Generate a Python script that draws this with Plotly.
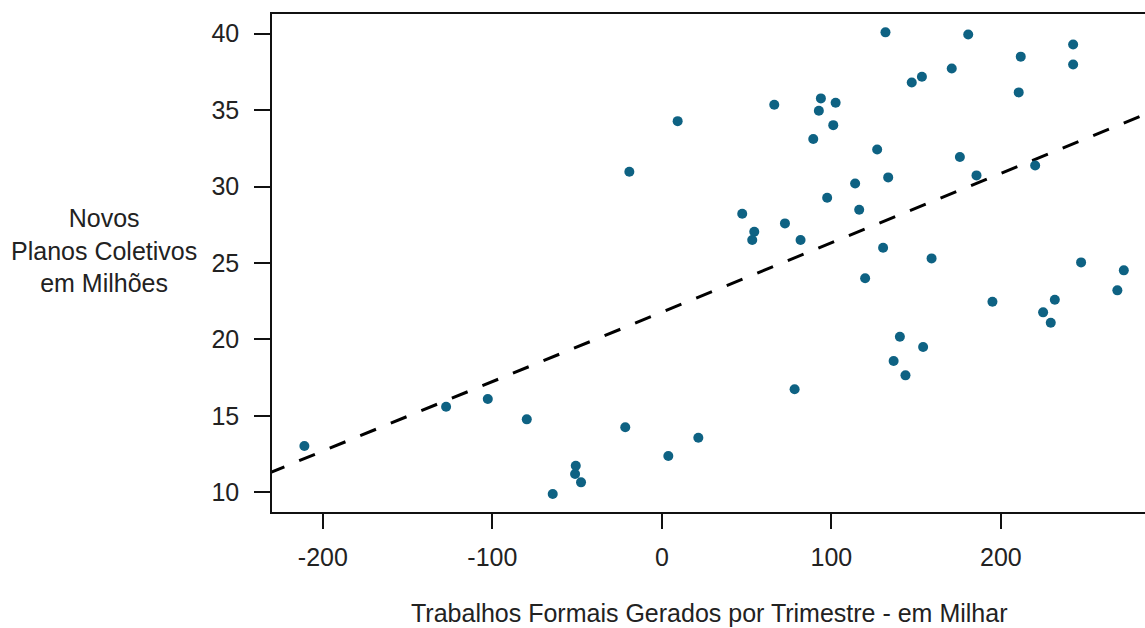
import plotly.graph_objects as go
import numpy as np

# Data
empregos_mil = [-210.9, -127.3, -102.7, -79.7, -64.4, -50.8, -51.2, -47.7, -21.6, -19.2,
                3.8, 9.3, 21.5, 47.4, 54.5, 53.3, 66.3, 72.6, 78.3, 81.8,
                89.3, 92.6, 93.8, 97.5, 101.1, 102.5, 114.0, 116.4, 119.9, 127.0,
                130.5, 131.9, 133.5, 136.7, 140.4, 143.7, 147.4, 153.4, 154.1, 159.1,
                171.0, 175.8, 180.7, 185.6, 195.0, 210.5, 211.7, 220.2, 224.9, 229.4,
                231.8, 242.6, 242.6, 247.3, 268.7, 272.5]
planos_mi = [13.03, 15.6, 16.1, 14.77, 9.89, 11.74, 11.2, 10.65, 14.25, 30.97,
             12.37, 34.28, 13.57, 28.22, 27.04, 26.5, 35.35, 27.59, 16.74, 26.5,
             33.11, 34.96, 35.77, 29.27, 34.02, 35.48, 30.2, 28.48, 24.0, 32.43,
             26.0, 40.09, 30.6, 18.59, 20.18, 17.65, 36.81, 37.18, 19.5, 25.3,
             37.73, 31.93, 39.95, 30.73, 22.47, 36.16, 38.5, 31.38, 21.77, 21.09,
             22.6, 39.3, 37.99, 25.04, 23.21, 24.52]

trend_intercept = 21.78
trend_slope = 0.0454

x_ticks = [-200, -100, 0, 100, 200]
y_ticks = [10, 15, 20, 25, 30, 35, 40]
x_range = [-230, 285]
y_range = [8.71, 41.29]

FONT = "Liberation Sans, Arial, sans-serif"
TXT = "#222222"
FS = 25

line_x = np.array([x_range[0] - 20, x_range[1] + 20])
line_y = trend_intercept + trend_slope * line_x

fig = go.Figure()
fig.add_trace(go.Scatter(
    x=line_x, y=line_y, mode="lines",
    line=dict(color="black", width=3, dash="17px,16px"),
    hoverinfo="skip", showlegend=False,
))
fig.add_trace(go.Scatter(
    x=empregos_mil, y=planos_mi, mode="markers",
    marker=dict(color="#0E6283", size=10, line=dict(width=0)),
    showlegend=False,
))

fig.update_layout(
    width=1145, height=628,
    margin=dict(l=272, r=0, t=14, b=116),
    paper_bgcolor="white", plot_bgcolor="white",
    font=dict(family=FONT, size=FS, color=TXT),
    xaxis=dict(
        range=x_range, tickvals=x_ticks, ticktext=[str(v) for v in x_ticks],
        showgrid=False, zeroline=False,
        showline=True, linecolor="#111111", linewidth=1.5, mirror=True,
        ticks="outside", ticklen=15, tickwidth=1.5, tickcolor="#111111",
        ticklabelstandoff=7,
        tickfont=dict(family=FONT, size=FS, color=TXT),
    ),
    yaxis=dict(
        range=y_range, tickvals=y_ticks, ticktext=[str(v) for v in y_ticks],
        showgrid=False, zeroline=False,
        showline=True, linecolor="#111111", linewidth=1.5, mirror=False,
        ticks="outside", ticklen=16, tickwidth=1.5, tickcolor="#111111",
        ticklabelstandoff=10,
        tickfont=dict(family=FONT, size=FS, color=TXT),
    ),
    annotations=[
        dict(text="Trabalhos Formais Gerados por Trimestre - em Milhar",
             xref="paper", yref="paper", x=0.5, y=0, yshift=-101,
             xanchor="center", yanchor="middle", showarrow=False,
             font=dict(family=FONT, size=FS, color=TXT)),
        dict(text="Novos<br>Planos Coletivos<br>em Milhões",
             xref="paper", yref="paper", x=0, xshift=-168, y=0.5, yshift=13,
             xanchor="center", yanchor="middle", align="center", showarrow=False,
             font=dict(family=FONT, size=FS, color=TXT)),
    ],
)

fig.write_html("out.html")
